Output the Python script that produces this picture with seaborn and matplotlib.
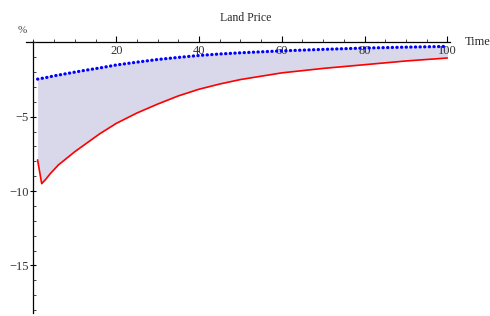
import numpy as np
import pandas as pd
import matplotlib
matplotlib.use("Agg")
import matplotlib.pyplot as plt
from matplotlib.ticker import MultipleLocator, FixedLocator
import seaborn as sns

# values
time = [1, 2, 3, 4, 5, 6, 8, 10, 12, 14, 16, 20, 25, 30, 35, 40, 45, 50, 60, 70, 80, 90, 100]
red_line = [-7.9, -9.5, -9.2, -8.85, -8.55, -8.25, -7.8, -7.35, -6.95, -6.55, -6.15,
            -5.45, -4.75, -4.15, -3.6, -3.15, -2.8, -2.5, -2.05, -1.75, -1.5, -1.25, -1.05]
blue_line = [-2.47, -2.42, -2.37, -2.31, -2.25, -2.2, -2.1, -2.0, -1.9, -1.81, -1.72,
             -1.52, -1.33, -1.15, -1.01, -0.88, -0.78, -0.7, -0.57, -0.47, -0.38, -0.32, -0.27]
x_major = [20, 40, 60, 80, 100]
y_major = [-5, -10, -15]

sns.set_theme(style="white")
plt.rcParams['font.family'] = ['Liberation Serif', 'DejaVu Serif']

df = pd.DataFrame({"Time": time, "red": red_line, "blue": blue_line})

fig = plt.figure(figsize=(4.9, 3.16), dpi=100)
ax = fig.add_axes([0.053, 0.0095, 0.865, 0.862])

ax.fill_between(df["Time"], df["blue"], df["red"], color="#d8d8ea", lw=0, zorder=1)
sns.lineplot(data=df, x="Time", y="red", ax=ax, color="#ff0000", linewidth=1.2, zorder=3)
sns.lineplot(data=df, x="Time", y="blue", ax=ax, color="#0000ff", linewidth=2.3,
             linestyle=(0, (0.1, 1.35)), dash_capstyle="round", zorder=3)

ax.set_xlim(-1.8, 100.6)
ax.set_ylim(-18.2, 0.12)

for s in ["top", "right"]:
    ax.spines[s].set_visible(False)
for s in ["left", "bottom"]:
    ax.spines[s].set_position(("data", 0))
    ax.spines[s].set_color("black")
    ax.spines[s].set_linewidth(0.9)
    ax.spines[s].set_zorder(2)
ax.xaxis.set_zorder(2)
ax.yaxis.set_zorder(2)

ax.xaxis.set_major_locator(FixedLocator(x_major))
ax.xaxis.set_minor_locator(MultipleLocator(5))
ax.yaxis.set_major_locator(FixedLocator(y_major))
ax.yaxis.set_minor_locator(MultipleLocator(1))
ax.set_yticklabels(["\u22125", "\u221210", "\u221215"])

ax.tick_params(axis="x", which="major", direction="in", length=4, width=0.8,
               labelsize=9, pad=2, colors="black", bottom=True)
ax.tick_params(axis="x", which="minor", direction="in", length=2, width=0.6, bottom=True)
ax.tick_params(axis="y", which="major", direction="inout", length=5, width=0.8,
               labelsize=9, pad=1, colors="black", left=True)
ax.tick_params(axis="y", which="minor", direction="in", length=2, width=0.6, left=True)
for lbl in ax.get_xticklabels() + ax.get_yticklabels():
    lbl.set_color("#333333")

ax.set_xlabel("")
ax.set_ylabel("")
fig.text(0.502, 0.943, "Land Price", ha="center", va="center", fontsize=8.5)
fig.text(0.948, 0.867, "Time", ha="left", va="center", fontsize=9)
fig.text(0.045, 0.905, "%", ha="center", va="center", fontsize=8, color="#444444")

fig.savefig("out.png", dpi=100)
